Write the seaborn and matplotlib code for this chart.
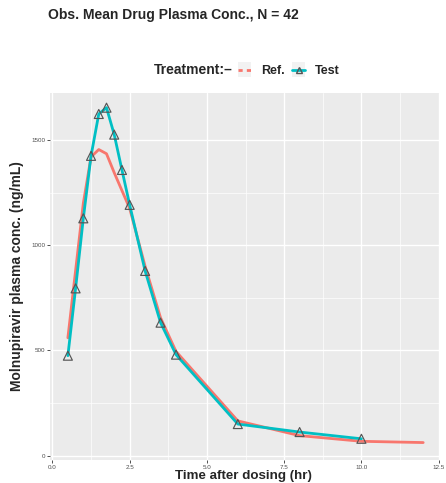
import matplotlib
matplotlib.use("Agg")
import matplotlib.pyplot as plt
from matplotlib.lines import Line2D
from matplotlib.patches import Rectangle
from matplotlib.legend_handler import HandlerLine2D
from matplotlib.ticker import MultipleLocator, FormatStrFormatter
import pandas as pd
import seaborn as sns

# Mean observed plasma concentrations by treatment
ref_time = [0.5, 0.75, 1.0, 1.25, 1.5, 1.75, 2.0, 2.25, 2.5, 3.0, 3.5, 4.0, 6.0, 8.0, 10.0, 12.0]
ref_conc = [560, 880, 1200, 1420, 1455, 1435, 1345, 1260, 1175, 900, 655, 495, 165, 95, 68, 62]

test_time = [0.5, 0.75, 1.0, 1.25, 1.5, 1.75, 2.0, 2.25, 2.5, 3.0, 3.5, 4.0, 6.0, 8.0, 10.0]
test_conc = [475, 795, 1128, 1425, 1624, 1654, 1526, 1358, 1192, 878, 632, 480, 150, 112, 80]

treatments = ["Ref.", "Test"]
colors = {"Ref.": "#F8766D", "Test": "#00BFC4"}

df = pd.concat([
    pd.DataFrame({"time": ref_time, "conc": ref_conc, "trt": "Ref."}),
    pd.DataFrame({"time": test_time, "conc": test_conc, "trt": "Test"}),
], ignore_index=True)

sns.set_theme(style="darkgrid")
plt.rcParams["font.family"] = ["Liberation Sans", "DejaVu Sans"]

fig = plt.figure(figsize=(4.46, 4.83), dpi=100)
ax = fig.add_axes([0.112, 0.048, 0.875, 0.760])
ax.set_facecolor("#EBEBEB")

sns.lineplot(data=df, x="time", y="conc", hue="trt", hue_order=treatments,
             palette=colors, linewidth=2.0, ax=ax, legend=False, zorder=3)
test_df = df[df["trt"] == "Test"]
sns.scatterplot(data=test_df, x="time", y="conc", marker="^", s=42,
                facecolor="none", edgecolor="#555555", linewidth=0.85,
                ax=ax, legend=False, zorder=4)

ax.set_xlim(-0.08, 12.55)
ax.set_ylim(-20, 1725)
ax.xaxis.set_major_locator(MultipleLocator(2.5))
ax.xaxis.set_minor_locator(MultipleLocator(1.25))
ax.yaxis.set_major_locator(MultipleLocator(500))
ax.yaxis.set_minor_locator(MultipleLocator(250))
ax.xaxis.set_major_formatter(FormatStrFormatter("%.1f"))
ax.grid(which="major", color="white", linewidth=1.0)
ax.grid(which="minor", color="white", linewidth=0.5)
ax.set_axisbelow(True)
for s in ax.spines.values():
    s.set_visible(False)
ax.tick_params(axis="both", which="major", labelsize=4.5, labelcolor="#4D4D4D",
               length=2, width=0.6, color="#333333", pad=1.5, left=True, bottom=True)
ax.tick_params(which="minor", length=0)

ax.set_xlabel("")
ax.set_ylabel("Molnupiravir plasma conc. (ng/mL)", fontsize=10, fontweight="bold", labelpad=5)
fig.text(0.546, 0.0155, "Time after dosing (hr)", fontsize=9.6, fontweight="bold",
         ha="center", va="center")

fig.text(0.108, 0.968, "Obs. Mean Drug Plasma Conc., N = 42", fontsize=10,
         fontweight="bold", ha="left", va="center")


class KeyHandler(HandlerLine2D):
    """Legend key drawn on a light grey square."""

    def create_artists(self, legend, orig_handle, xdescent, ydescent,
                       width, height, fontsize, trans):
        artists = super().create_artists(legend, orig_handle, xdescent, ydescent,
                                         width, height, fontsize, trans)
        pad = 2.0
        bg = Rectangle((-xdescent, -ydescent - pad), width, height + 2 * pad,
                       facecolor="#F2F2F2", edgecolor="none", transform=trans)
        return [bg] + list(artists)


# Legend: title on the same row as the entries
fig.text(0.521, 0.855, "Treatment:\u2013", fontsize=10, fontweight="bold",
         ha="right", va="center")
handles = [
    Line2D([], [], color=colors["Ref."], linewidth=2.0, linestyle=(0, (1.5, 1.5))),
    Line2D([], [], color=colors["Test"], linewidth=2.0, marker="^",
           markerfacecolor="none", markeredgecolor="#555555", markersize=5),
]
fig.legend(handles, treatments, loc="center left",
           bbox_to_anchor=(0.534, 0.853), ncol=2, frameon=False,
           prop={"weight": "bold", "size": 9}, handlelength=1.04,
           handletextpad=0.8, columnspacing=0.6, borderaxespad=0, borderpad=0,
           handler_map={Line2D: KeyHandler()})

fig.savefig("out.png", dpi=100)
